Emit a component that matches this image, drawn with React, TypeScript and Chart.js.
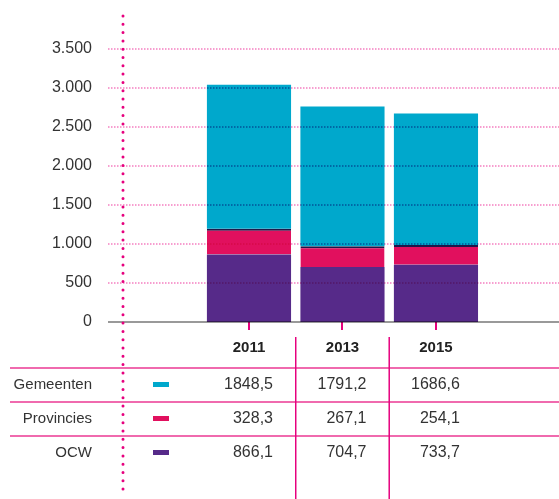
import React, { useEffect, useRef } from "react";
import { Chart, registerables } from "chart.js";

Chart.register(...registerables);

const years = ["2011", "2013", "2015"];
const seriesNames = ["Gemeenten", "Provincies", "OCW"];
const gemeenten = [1848.5, 1791.2, 1686.6];
const provincies = [328.3, 267.1, 254.1];
const ocw = [866.1, 704.7, 733.7];
const seriesColors = ["#00a8cc", "#e1105e", "#562a89"];
const tableValues = [gemeenten, provincies, ocw];

const FONT = '"Liberation Sans", Arial, Helvetica, sans-serif';
const PINK = "#e6007e";

const fmtThousands = (v: number) =>
  String(v).replace(/\B(?=(\d{3})+(?!\d))/g, ".");
const fmtDec = (v: number) => v.toFixed(1).replace(".", ",");

const overlayPlugin = {
  id: "overlay",
  afterDatasetsDraw(chart: any) {
    const { ctx, chartArea, scales } = chart;
    const y = scales.y;
    ctx.save();
    ctx.globalCompositeOperation = "multiply";
    ctx.strokeStyle = "rgba(236,40,150,0.6)";
    ctx.lineWidth = 1.5;
    ctx.setLineDash([1.5, 1.5]);
    y.ticks.forEach((t: any) => {
      if (t.value === 0) return;
      const py = y.getPixelForValue(t.value);
      ctx.beginPath();
      ctx.moveTo(chartArea.left, py);
      ctx.lineTo(chartArea.right, py);
      ctx.stroke();
    });
    ctx.setLineDash([]);
    ctx.strokeStyle = "#999999";
    ctx.lineWidth = 2;
    const by = y.getPixelForValue(0);
    ctx.beginPath();
    ctx.moveTo(chartArea.left, by);
    ctx.lineTo(chartArea.right, by);
    ctx.stroke();
    ctx.restore();
  },
  afterDraw(chart: any) {
    const { ctx, chartArea, scales, width, height } = chart;
    const x = scales.x;
    const bottom = chartArea.bottom;
    ctx.save();
    ctx.strokeStyle = "#f06aae";
    ctx.lineWidth = 2;
    const firstLine = bottom + 46;
    const rowH = 34;
    for (let r = 0; r < seriesNames.length; r++) {
      const ly = firstLine + r * rowH;
      ctx.beginPath();
      ctx.moveTo(10, ly);
      ctx.lineTo(width, ly);
      ctx.stroke();
    }
    ctx.strokeStyle = PINK;
    ctx.lineWidth = 1.5;
    for (let i = 0; i < years.length - 1; i++) {
      const vx = x.getPixelForValue(i + 0.5);
      ctx.beginPath();
      ctx.moveTo(vx, bottom + 15);
      ctx.lineTo(vx, height);
      ctx.stroke();
    }
    ctx.textBaseline = "middle";
    const dotX = chartArea.left + 15;
    seriesNames.forEach((name, r) => {
      const cy = firstLine + r * rowH + 16.5;
      ctx.fillStyle = "#333333";
      ctx.font = `15px ${FONT}`;
      ctx.textAlign = "right";
      ctx.fillText(name, chartArea.left - 16, cy);
      ctx.fillStyle = seriesColors[r];
      ctx.fillRect(dotX + 30, cy - 2.5, 16, 5);
      ctx.fillStyle = "#333333";
      ctx.font = `16px ${FONT}`;
      tableValues[r].forEach((v, i) => {
        ctx.fillText(fmtDec(v), x.getPixelForValue(i) + 24, cy);
      });
    });
    ctx.strokeStyle = PINK;
    ctx.lineWidth = 3;
    ctx.lineCap = "round";
    ctx.setLineDash([0, 8.3]);
    ctx.beginPath();
    ctx.moveTo(dotX, 16);
    ctx.lineTo(dotX, height - 4);
    ctx.stroke();
    ctx.restore();
  },
};

export default function App() {
  const ref = useRef<HTMLCanvasElement | null>(null);
  useEffect(() => {
    document.body.style.margin = "0";
    if (!ref.current) return;
    const chart = new Chart(ref.current, {
      type: "bar",
      data: {
        datasets: [
          {
            label: seriesNames[2],
            data: ocw.map((v, i) => ({ x: i, y: v })),
            backgroundColor: seriesColors[2],
            borderWidth: 0,
          },
          {
            label: seriesNames[1],
            data: provincies.map((v, i) => ({ x: i, y: v })),
            backgroundColor: seriesColors[1],
            borderColor: "#1f1748",
            borderWidth: { top: 2, left: 0, right: 0, bottom: 0 },
            borderSkipped: false,
          },
          {
            label: seriesNames[0],
            data: gemeenten.map((v, i) => ({ x: i, y: v })),
            backgroundColor: seriesColors[0],
            borderWidth: 0,
          },
        ],
      },
      options: {
        animation: false,
        responsive: false,
        categoryPercentage: 1,
        barPercentage: 0.9,
        layout: { padding: { top: 49, left: 0, right: 0, bottom: 0 } },
        plugins: { legend: { display: false }, tooltip: { enabled: false } },
        scales: {
          x: {
            type: "linear",
            stacked: true,
            offset: false,
            bounds: "data",
            min: -1.508,
            max: 3.316,
            afterBuildTicks: (s: any) => {
              s.ticks = years.map((_, i) => ({ value: i }));
            },
            afterFit: (s: any) => {
              s.height = 177;
            },
            ticks: {
              callback: (v: any) => years[v as number] ?? "",
              autoSkip: false,
              maxRotation: 0,
              padding: 9,
              color: "#222222",
              font: { family: FONT, size: 15, weight: "bold" },
            },
            grid: {
              display: true,
              offset: false,
              drawOnChartArea: false,
              drawTicks: true,
              tickLength: 8,
              color: PINK,
              lineWidth: 2,
            },
            border: { display: false },
          },
          y: {
            stacked: true,
            min: 0,
            max: 3500,
            afterFit: (s: any) => {
              s.width = 108;
            },
            ticks: {
              stepSize: 500,
              padding: 16,
              color: "#333333",
              font: { family: FONT, size: 16 },
              callback: (v: any) => fmtThousands(Number(v)),
            },
            grid: { display: false, drawTicks: false },
            border: { display: false },
          },
        },
      },
      plugins: [overlayPlugin],
    } as any);
    return () => chart.destroy();
  }, []);
  return (
    <div style={{ width: 559, height: 499, position: "relative" }}>
      <canvas ref={ref} width={559} height={499} style={{ display: "block" }} />
    </div>
  );
}
